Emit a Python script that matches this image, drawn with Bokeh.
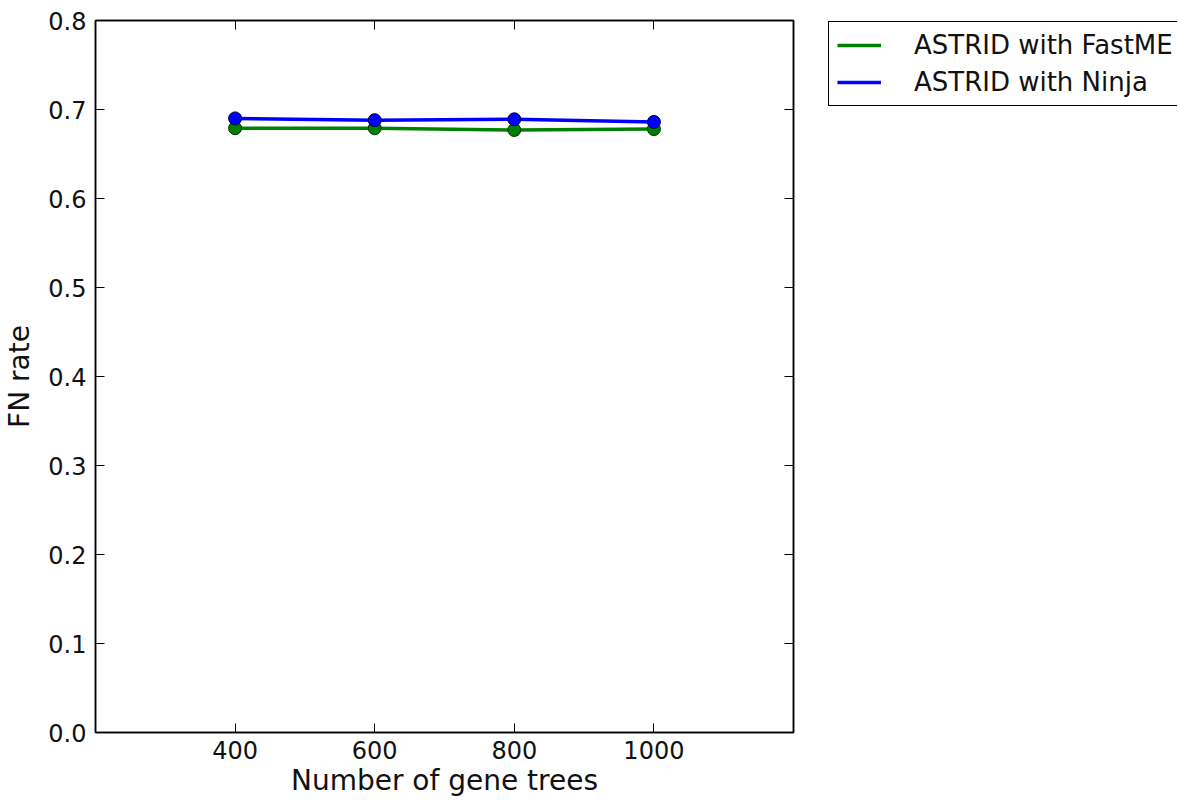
from bokeh.plotting import figure
from bokeh.models import (LinearAxis, FixedTicker, Legend, LegendItem, Range1d,
                          PrintfTickFormatter, CustomJSTickFormatter)
from bokeh.layouts import row
from bokeh.embed import file_html
from bokeh.resources import INLINE

# ---- data ----
gene_trees = [400, 600, 800, 1000]
fastme_fn = [0.679, 0.679, 0.677, 0.678]
ninja_fn = [0.690, 0.688, 0.689, 0.686]
x_ticks = [400, 600, 800, 1000]
y_ticks = [0.0, 0.1, 0.2, 0.3, 0.4, 0.5, 0.6, 0.7, 0.8]
series_names = ["ASTRID with FastME", "ASTRID with Ninja"]
series_colors = ["#008000", "#0000ff"]

FONT = "DejaVu Sans"
TICK_FS = "24px"
LABEL_FS = "28px"

p = figure(frame_width=698, frame_height=712, output_backend="svg",
           toolbar_location=None,
           x_range=Range1d(200, 1200), y_range=Range1d(0.0, 0.8),
           min_border_left=88, min_border_top=20, min_border_right=34,
           min_border_bottom=60)
p.background_fill_color = "white"
p.border_fill_color = "white"
p.outline_line_color = "black"
p.outline_line_width = 1.5
p.xgrid.visible = False
p.ygrid.visible = False


def style_axis(ax):
    ax.axis_line_color = "black"
    ax.axis_line_width = 1.5
    ax.major_tick_in = 9
    ax.major_tick_out = 0
    ax.major_tick_line_color = "black"
    ax.major_tick_line_width = 1
    ax.minor_tick_in = 0
    ax.minor_tick_out = 0
    ax.major_label_text_font = FONT
    ax.major_label_text_font_size = TICK_FS
    ax.major_label_text_color = "#111111"
    ax.axis_label_text_font = FONT
    ax.axis_label_text_font_size = LABEL_FS
    ax.axis_label_text_font_style = "normal"
    ax.axis_label_text_color = "#111111"


xa = p.xaxis[0]
xa.ticker = FixedTicker(ticks=x_ticks)
xa.axis_label = "Number of gene trees"
xa.major_label_standoff = 8
xa.axis_label_standoff = 2
style_axis(xa)

ya = p.yaxis[0]
ya.ticker = FixedTicker(ticks=y_ticks)
ya.formatter = PrintfTickFormatter(format="%.1f")
ya.axis_label = "FN rate"
ya.major_label_standoff = 9
ya.axis_label_standoff = 9
style_axis(ya)

blank = CustomJSTickFormatter(code="return '';")
top = LinearAxis(ticker=FixedTicker(ticks=x_ticks), formatter=blank)
style_axis(top)
top.major_label_standoff = 0
p.add_layout(top, "above")
right = LinearAxis(ticker=FixedTicker(ticks=y_ticks), formatter=blank)
style_axis(right)
right.major_label_standoff = 0
p.add_layout(right, "right")

p.line(gene_trees, fastme_fn, line_color=series_colors[0], line_width=3.5)
p.scatter(gene_trees, fastme_fn, size=13, fill_color=series_colors[0],
          line_color="#003300", line_width=1)
p.line(gene_trees, ninja_fn, line_color=series_colors[1], line_width=3.5)
p.scatter(gene_trees, ninja_fn, size=13, fill_color=series_colors[1],
          line_color="#000033", line_width=1)

# legend panel (separate figure to the right of the axes); its proxy lines
# carry the same data but lie outside this panel's ranges
lg = figure(width=350, height=792, output_backend="svg", toolbar_location=None,
            x_range=Range1d(0, 1), y_range=Range1d(0, 0.1),
            min_border=0, x_axis_location=None, y_axis_location=None)
lg.outline_line_color = None
lg.xgrid.visible = False
lg.ygrid.visible = False
k1 = lg.line(gene_trees, fastme_fn, line_color=series_colors[0], line_width=3.5)
k2 = lg.line(gene_trees, ninja_fn, line_color=series_colors[1], line_width=3.5)

legend = Legend(items=[LegendItem(label=series_names[0], renderers=[k1]),
                       LegendItem(label=series_names[1], renderers=[k2])],
                location="top_left")
legend.label_text_font = FONT
legend.label_text_font_size = "26px"
legend.label_text_color = "#111111"
legend.glyph_width = 44
legend.glyph_height = 30
legend.label_standoff = 33
legend.padding = 8
legend.spacing = 7
legend.margin = 1
legend.border_line_color = "black"
legend.border_line_alpha = 1.0
legend.border_line_width = 1.5
legend.background_fill_color = "white"
legend.background_fill_alpha = 1.0
lg.add_layout(legend, "center")

layout = row(p, lg)
open("out.html", "w").write(file_html(layout, INLINE))
